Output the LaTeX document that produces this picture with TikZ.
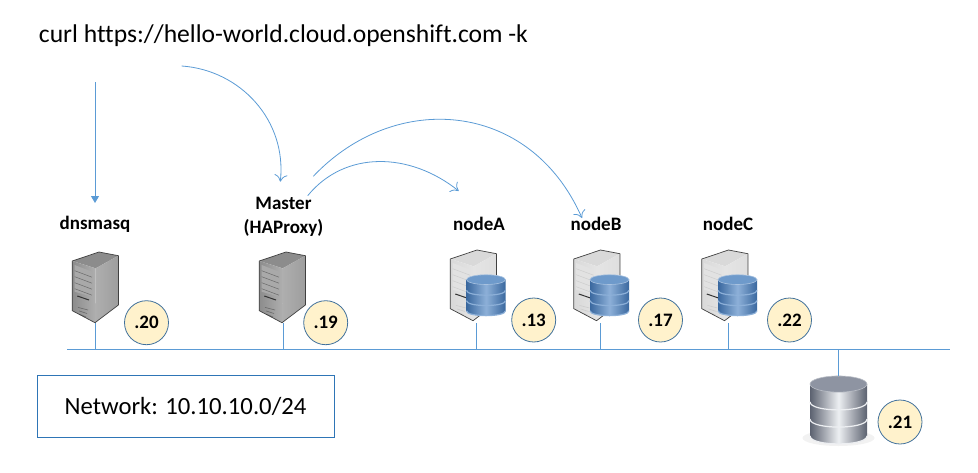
\documentclass[tikz,border=0pt]{standalone}
\usepackage{fontspec}
\usetikzlibrary{arrows.meta}
\setmainfont[Ligatures=CommonOff]{Carlito}
\definecolor{wire}{HTML}{5B9BD5}
\definecolor{addrfill}{HTML}{FFF2CC}
\definecolor{addrline}{HTML}{41719C}
\definecolor{boxline}{HTML}{2E75B6}
\definecolor{bluedark}{HTML}{3A689F}
\definecolor{bluelight}{HTML}{8DB0D8}
\definecolor{bluetop}{HTML}{6E9ACB}
\definecolor{greydark}{HTML}{5C6270}
\definecolor{greylight}{HTML}{EDEFF2}
\definecolor{greytop}{HTML}{8E94A2}

\tikzset{
    pics/server/.style={code={
        % #1 is how dark the case is
        \fill[black!#1!white] (-22.7,-61.7) -- (4,-70.7) -- (23.4,-67) -- (0.7,-54.4) -- cycle;
        \path[left color=black!#1!white, right color=black!#1!white!70] (-22.7,-61.7) -- (0.7,-54.4) -- (0,0) -- (-22.7,-12) -- cycle;
        \path[left color=black!#1!white!70, right color=black!#1!white!85] (0.7,-54.4) -- (23.4,-67) -- (23.4,-17.7) -- (0,0) -- cycle;
        \fill[black!#1!white!75] (-20.3,-57.7) -- (-3,-51) -- (-3,-26) -- (-20.3,-31) -- cycle;
        \foreach \y in {0,6,12,18}
            \draw[black!#1!white!130, line width=.5pt] (-20.3,-52+\y) -- (-3,-45.5+\y);
        \draw[black!80, line width=1pt] (-17.7,-26.7) -- (-6,-22.7);
        \foreach \y/\d in {0/0,3.5/1,7/2}
            \draw[black!#1!white!130, line width=.6pt] (-17+\d,-15.3+\y) -- (-7-\d,-12.7+\y);
        \draw[black!75, line width=.7pt, line join=round] (-22.7,-61.7) -- (4,-70.7) -- (23.4,-67) -- (23.4,-17.7) -- (0,0) -- (-22.7,-12) -- cycle;
    }},
    pics/dbstack/.style n args={3}{code={
        % three discs, the lowest one first
        \foreach \t in {-.8,-1.32,-1.85} {
            \path[left color=#1, right color=#1, middle color=#2]
                (-1,\t) -- (-1,\t+.55) .. controls (-1,\t+.88) and (1,\t+.88) .. (1,\t+.55) -- (1,\t) -- cycle;
            \draw[#2, line width=1.2pt] (-1,\t+.55) .. controls (-1,\t+.88) and (1,\t+.88) .. (1,\t+.55);
        }
        \fill[#3] (0,-1.85) ellipse (1 and .25);
        \draw[#3!60!white, line width=.6pt] (0,-1.85) ellipse (1 and .25);
    }}
}

\begin{document}
\begin{tikzpicture}[x=1pt,y=-1pt,font=\fontsize{18}{21}\selectfont]
    \tikzstyle{link}=[wire,line width=1pt]
    \tikzstyle{call}=[link,line width=.8pt,-{To[length=7pt,width=13pt]}]
    \tikzstyle{addr}=[circle,draw=addrline,fill=addrfill,line width=.8pt,minimum size=44pt,inner sep=0pt,font=\fontsize{19}{22}\selectfont\bfseries]
    \tikzstyle{host}=[align=center,font=\fontsize{19}{24}\selectfont\bfseries]

    \useasboundingbox (0,0) rectangle (978,472);

    % The command line and the network box
    \node[font=\fontsize{25.6}{30}\selectfont] (curl) at (283.5,36) {curl https://hello-world.cloud.openshift.com -k};
    \node[draw=boxline,line width=.8pt,minimum width=297pt,minimum height=62pt,font=\fontsize{24.7}{29}\selectfont] (net) at (185.5,406) {Network: 10.10.10.0/24};

    % The network line
    \coordinate (lan-l) at (67,349.5);
    \coordinate (lan-r) at (950,349.5);
    \draw[link] (lan-l) -- (lan-r);

    % Plain servers
    \foreach \name / \x in {dnsmasq/95,master/282}
        \pic at (\x,322.7) {server=45};

    % Servers with a disk
    \foreach \name / \x in {nodeA/473,nodeB/596.5,nodeC/724.5} {
        \pic at (\x,320.7) {server=15};
        \pic[scale=19.5] at (\x+13,315.7) {dbstack={bluedark}{bluelight}{bluetop}};
    }

    % The disk array
    \fill[black!5] (838.5,438) ellipse (36 and 8);
    \pic[xscale=28.5,yscale=32.4] at (838.5,444) {dbstack={greydark}{greylight}{greytop}};

    % Names
    \node[host] (dnsmasq) at (95,224) {dnsmasq};
    \node[host] (master) at (283.5,217) {Master\\(HAProxy)};
    \node[host] (nodeA) at (479,224) {nodeA};
    \node[host] (nodeB) at (596,224) {nodeB};
    \node[host] (nodeC) at (728,224) {nodeC};

    % Addresses
    \node[addr] (a20) at (146.5,322.7) {.20};
    \node[addr] (a19) at (325.7,322.7) {.19};
    \node[addr] (a13) at (533.7,320) {.13};
    \node[addr] (a17) at (660.5,320) {.17};
    \node[addr] (a22) at (789.5,320) {.22};
    \node[addr] (a21) at (900,422) {.21};

    % Drops from the hosts to the network
    \foreach \name / \x / \y in {dnsmasq/95.5/323,master/283/323,nodeA/476.7/323,nodeB/600.2/323,nodeC/728.2/323,array/838.5/376} {
        \coordinate (\name-top) at (\x,\y);
        \coordinate (\name-lan) at (\x,349.5);
        \draw[link] (\name-top) -- (\name-lan);
    }

    % Where the calls start and end
    \coordinate (c1) at (95,82);
    \coordinate (c2) at (95,203);
    \coordinate (c3) at (181.7,66);
    \coordinate (c4) at (280.3,181.7);
    \coordinate (c5) at (307.7,195.7);
    \coordinate (c6) at (458.7,191);
    \coordinate (c7) at (313.3,176.3);
    \coordinate (c8) at (582,218);

    \draw[link,-{Triangle[length=7pt,width=8pt]}] (c1) -- (c2);
    \draw[call] (c3) .. controls (240,70) and (287,120) .. (c4);
    \draw[call] (c5) .. controls (345,150) and (410,152) .. (c6);
    \draw[call] (c7) .. controls (395,90) and (530,100) .. (c8);
\end{tikzpicture}
\end{document}
